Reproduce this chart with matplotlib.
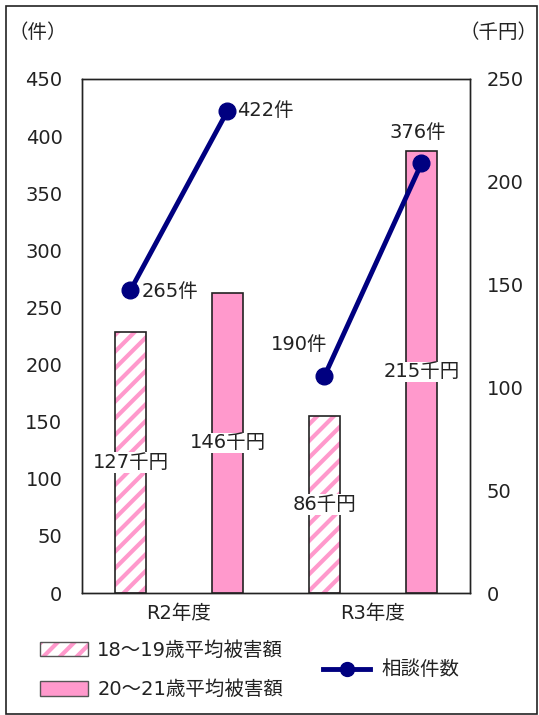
"""Recreate: 相談件数 and 平均被害額 by fiscal year (R2 / R3)."""

import matplotlib
matplotlib.use('Agg')
import matplotlib.pyplot as plt
from matplotlib.patches import Rectangle
from matplotlib.lines import Line2D
import numpy as np

plt.rcParams['font.family'] = ['DejaVu Sans', 'Noto Sans CJK JP']
plt.rcParams['hatch.linewidth'] = 3.0

# data
years = ['R2年度', 'R3年度']
damage_18_19 = [127, 86]      # 千円
damage_20_21 = [146, 215]     # 千円
consult_18_19 = [265, 190]    # 件
consult_20_21 = [422, 376]    # 件
series_names = ['18～19歳平均被害額', '20～21歳平均被害額', '相談件数']

PINK = '#FF99CC'
NAVY = '#000080'
TXT = '#222222'
FS = 14

fig = plt.figure(figsize=(5.39, 7.15), dpi=100)
ax = fig.add_axes([0.152, 0.1706, 0.720, 0.719])
ax2 = ax.twinx()

x = np.arange(len(years))
off = 0.25
w = 0.16

# hatched bars (pink stripes, dark outline) on the 千円 axis
ax2.bar(x - off, damage_18_19, w, color='white', edgecolor=PINK,
        hatch='//', linewidth=0, zorder=2)
ax2.bar(x - off, damage_18_19, w, fill=False, edgecolor=TXT,
        linewidth=1.2, zorder=3)
ax2.bar(x + off, damage_20_21, w, color=PINK, edgecolor=TXT,
        linewidth=1.2, zorder=3)

# bar labels at mid height
bar_lbl = dict(ha='center', va='center', fontsize=FS, color=TXT, zorder=5,
               bbox=dict(facecolor='white', edgecolor='none', pad=0.5))
for i in range(len(years)):
    ax2.text(x[i] - off, damage_18_19[i] / 2, f'{damage_18_19[i]}千円', **bar_lbl)
    ax2.text(x[i] + off, damage_20_21[i] / 2, f'{damage_20_21[i]}千円', **bar_lbl)

# line on the 件 axis, one segment per year
for i in range(len(years)):
    ax.plot([x[i] - off, x[i] + off], [consult_18_19[i], consult_20_21[i]],
            color=NAVY, lw=3.5, marker='o', ms=12, zorder=6)

ax.annotate(f'{consult_18_19[0]}件', (x[0] - off, consult_18_19[0]),
            xytext=(8, -1), textcoords='offset points', ha='left', va='center',
            fontsize=FS, color=TXT)
ax.annotate(f'{consult_20_21[0]}件', (x[0] + off, consult_20_21[0]),
            xytext=(7, 0), textcoords='offset points', ha='left', va='center',
            fontsize=FS, color=TXT)
ax.annotate(f'{consult_18_19[1]}件', (x[1] - off, consult_18_19[1]),
            xytext=(2, 23), textcoords='offset points', ha='right', va='center',
            fontsize=FS, color=TXT)
ax.annotate(f'{consult_20_21[1]}件', (x[1] + off, consult_20_21[1]),
            xytext=(-3, 22), textcoords='offset points', ha='center', va='center',
            fontsize=FS, color=TXT)

# put line axis above the bar axis
ax.set_zorder(ax2.get_zorder() + 1)
ax.patch.set_visible(False)

ax.set_xlim(-0.5, 1.5)
ax.set_ylim(0, 450)
ax.set_yticks(range(0, 451, 50))
ax2.set_ylim(0, 250)
ax2.set_yticks(range(0, 251, 50))
ax.set_xticks(x)
ax.set_xticklabels(years)

ax.tick_params(axis='y', length=0, pad=14, labelsize=FS, labelcolor=TXT)
ax.tick_params(axis='x', length=0, pad=8, labelsize=FS, labelcolor=TXT)
ax2.tick_params(axis='y', length=0, pad=12, labelsize=FS, labelcolor=TXT)
for a in (ax, ax2):
    for s in a.spines.values():
        s.set_color(TXT)
        s.set_linewidth(1.0)

fig.text(0.015, 0.955, '（件）', fontsize=FS, ha='left', va='center', color=TXT)
fig.text(0.998, 0.955, '（千円）', fontsize=FS, ha='right', va='center', color=TXT)

# legend
h1 = Rectangle((0, 0), 1, 1, facecolor='white', edgecolor=PINK, hatch='//', linewidth=0)
h1b = Rectangle((0, 0), 1, 1, fill=False, edgecolor='#555555', linewidth=1.0)
h2 = Rectangle((0, 0), 1, 1, facecolor=PINK, edgecolor='#555555', linewidth=1.0)
fig.legend([(h1, h1b), h2], series_names[:2], loc='center left',
           bbox_to_anchor=(0.074, 0.063), frameon=False, fontsize=FS,
           handlelength=2.5, handleheight=0.75, labelspacing=1.05, handletextpad=0.45,
           borderaxespad=0, borderpad=0, labelcolor=TXT)
h3 = Line2D([0], [0], color=NAVY, lw=3.5, marker='o', ms=10)
fig.legend([h3], series_names[2:], loc='center left', bbox_to_anchor=(0.60, 0.063),
           frameon=False, fontsize=FS, handlelength=2.4, handletextpad=0.6,
           borderaxespad=0, borderpad=0, labelcolor=TXT)

# outer frame
fig.patches.append(Rectangle((0.011, 0.002), 0.985, 0.99, transform=fig.transFigure,
                             fill=False, edgecolor=TXT, linewidth=1.2))

plt.savefig('out.png', dpi=100)
plt.close()
